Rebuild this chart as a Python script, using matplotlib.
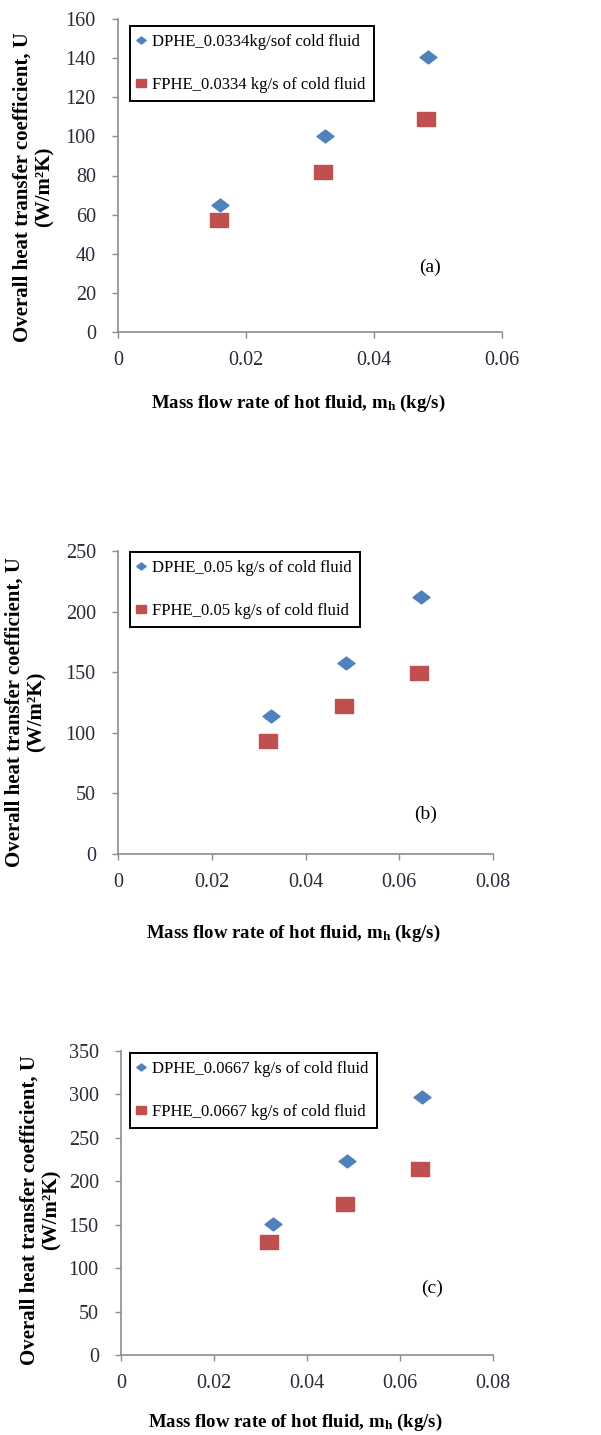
import matplotlib
matplotlib.use("Agg")
from matplotlib import pyplot as plt
from matplotlib.path import Path
import numpy as np

plt.rcParams['font.family'] = ['Liberation Serif', 'DejaVu Serif']
plt.rcParams['mathtext.fontset'] = 'custom'
plt.rcParams['mathtext.rm'] = 'Liberation Serif:bold'
plt.rcParams['mathtext.it'] = 'Liberation Serif:bold'
plt.rcParams['mathtext.bf'] = 'Liberation Serif:bold'

# panel (a): 0.0334 kg/s cold fluid
mh_dphe_a = [0.0160, 0.0324, 0.0485]
u_dphe_a = [65, 100, 140.5]
mh_fphe_a = [0.0158, 0.0321, 0.0482]
u_fphe_a = [57, 81.6, 109]

# panel (b): 0.05 kg/s cold fluid
mh_dphe_b = [0.0326, 0.0487, 0.0647]
u_dphe_b = [114, 158, 212]
mh_fphe_b = [0.0321, 0.0482, 0.0643]
u_fphe_b = [93, 122.5, 149.5]

# panel (c): 0.0667 kg/s cold fluid
mh_dphe_c = [0.0326, 0.0486, 0.0647]
u_dphe_c = [151, 223.5, 297.5]
mh_fphe_c = [0.0318, 0.0482, 0.0644]
u_fphe_c = [130, 174, 214]

panels = [
    dict(xd=mh_dphe_a, yd=u_dphe_a, xf=mh_fphe_a, yf=u_fphe_a,
         lab_d="DPHE_0.0334kg/sof cold fluid", lab_f="FPHE_0.0334 kg/s of cold fluid",
         xmax=0.06, xticks=[0, 0.02, 0.04, 0.06], ymax=160, yticks=np.arange(0, 161, 20),
         tag="(a)"),
    dict(xd=mh_dphe_b, yd=u_dphe_b, xf=mh_fphe_b, yf=u_fphe_b,
         lab_d="DPHE_0.05 kg/s of cold fluid", lab_f="FPHE_0.05 kg/s of cold fluid",
         xmax=0.08, xticks=[0, 0.02, 0.04, 0.06, 0.08], ymax=250, yticks=np.arange(0, 251, 50),
         tag="(b)"),
    dict(xd=mh_dphe_c, yd=u_dphe_c, xf=mh_fphe_c, yf=u_fphe_c,
         lab_d="DPHE_0.0667 kg/s of cold fluid", lab_f="FPHE_0.0667 kg/s of cold fluid",
         xmax=0.08, xticks=[0, 0.02, 0.04, 0.06, 0.08], ymax=350, yticks=np.arange(0, 351, 50),
         tag="(c)"),
]

W, H = 601, 1435
# layout in pixels: (left, right, top, bottom)
boxes = [(118, 502, 19, 332), (118, 493, 551, 854), (121, 493, 1051, 1355)]
legend_pos = [(130, 26), (130, 552), (130, 1053)]
ylab_x = [(23, 45), (15, 37), (30, 52)]
ylab_y = [187, 712, 1210]
xlab_pos = [(298, 403), (293, 933), (295, 1422)]
tag_pos = [(430, 267), (426, 814), (432, 1288)]

diamond = Path([(-1, 0), (0, 0.76), (1, 0), (0, -0.76), (-1, 0)],
               [Path.MOVETO, Path.LINETO, Path.LINETO, Path.LINETO, Path.CLOSEPOLY])
rect = Path([(-1, -0.8), (1, -0.8), (1, 0.8), (-1, 0.8), (-1, -0.8)],
            [Path.MOVETO, Path.LINETO, Path.LINETO, Path.LINETO, Path.CLOSEPOLY])

blue = '#4F81BD'
red = '#C0504D'
axis_gray = '#8C8C8C'
tick_color = '#2a2a3a'

fig = plt.figure(figsize=(W / 100, H / 100), dpi=100)

for p, (l, r, t, b), lp, yx, yy, xl, tp in zip(panels, boxes, legend_pos, ylab_x, ylab_y, xlab_pos, tag_pos):
    ax = fig.add_axes([l / W, 1 - b / H, (r - l) / W, (b - t) / H])
    ax.plot(p['xd'], p['yd'], linestyle='none', marker=diamond, markersize=12.2,
            color=blue, label=p['lab_d'])
    ax.plot(p['xf'], p['yf'], linestyle='none', marker=rect, markersize=12.7,
            color=red, label=p['lab_f'])
    ax.set_xlim(0, p['xmax'])
    ax.set_ylim(0, p['ymax'])
    ax.set_xticks(p['xticks'])
    ax.set_xticklabels(['0' if v == 0 else f"{v:g}" for v in p['xticks']])
    ax.set_yticks(p['yticks'])
    for s in ['top', 'right']:
        ax.spines[s].set_visible(False)
    for s in ['left', 'bottom']:
        ax.spines[s].set_color(axis_gray)
        ax.spines[s].set_linewidth(1.2)
    ax.tick_params(axis='both', colors=axis_gray, labelcolor=tick_color, labelsize=14.5,
                   length=4, width=1)
    ax.tick_params(axis='x', pad=10)
    ax.tick_params(axis='y', pad=12)

    leg = ax.legend(loc='upper left', bbox_to_anchor=(lp[0] / W, 1 - lp[1] / H),
                    bbox_transform=fig.transFigure, fontsize=12, markerscale=0.55,
                    handlelength=0.4, handletextpad=0.45, labelspacing=1.6,
                    borderpad=0.48, borderaxespad=0, fancybox=False, framealpha=1,
                    edgecolor='black')
    leg.get_frame().set_linewidth(1.4)

    fig.text(yx[0] / W, 1 - yy / H, "Overall heat transfer coefficient, U",
             rotation=90, ha='center', va='center', fontsize=15, fontweight='bold')
    fig.text(yx[1] / W, 1 - yy / H, "(W/m²K)",
             rotation=90, ha='center', va='center', fontsize=15, fontweight='bold')
    fig.text(xl[0] / W, 1 - xl[1] / H, r"Mass flow rate of hot fluid, m$_{\mathrm{h}}$ (kg/s)",
             ha='center', va='center', fontsize=13.5, fontweight='bold')
    fig.text(tp[0] / W, 1 - tp[1] / H, p['tag'], ha='center', va='center', fontsize=14)

fig.savefig('out.png', dpi=100)
